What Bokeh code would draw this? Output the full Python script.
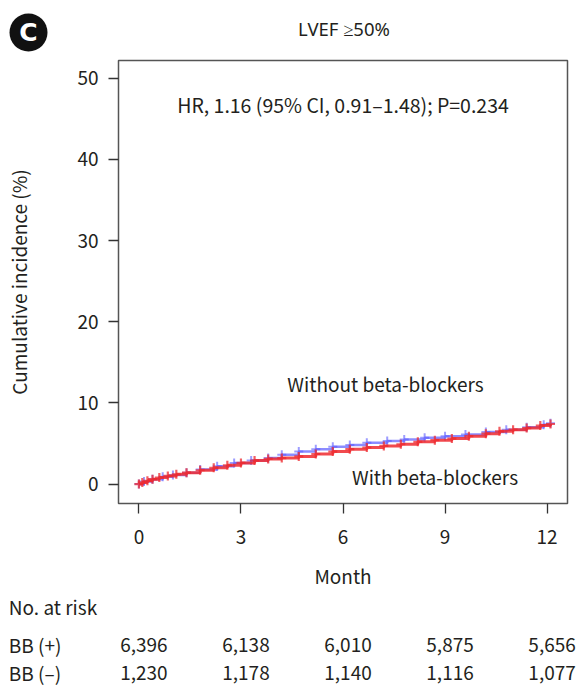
import math
from bokeh.plotting import figure
from bokeh.models import Range1d
from bokeh.layouts import column
from bokeh.embed import file_html
from bokeh.resources import INLINE
from bokeh.core.properties import value

# ---- data ----
months_bb = [0, 0.1, 0.25, 0.4, 0.6, 0.85, 1.1, 1.4, 1.8, 2.2, 2.6, 3.0, 3.4, 3.8,
             4.2, 4.7, 5.2, 5.7, 6.2, 6.7, 7.2, 7.7, 8.2, 8.7, 9.2, 9.7, 10.2,
             10.6, 11.0, 11.4, 11.8, 12.1]
inc_bb = [0.0, 0.2, 0.4, 0.6, 0.8, 1.0, 1.2, 1.4, 1.7, 2.0, 2.3, 2.6, 2.9, 3.1,
          3.2, 3.4, 3.7, 4.0, 4.3, 4.5, 4.7, 4.9, 5.2, 5.4, 5.6, 5.9, 6.2,
          6.5, 6.7, 6.9, 7.2, 7.4]

months_nobb = [0, 0.15, 0.4, 0.7, 1.0, 1.4, 1.8, 2.3, 2.8, 3.3, 3.8, 4.2, 4.7,
               5.2, 5.7, 6.2, 6.7, 7.3, 7.8, 8.4, 9.0, 9.6, 10.2, 10.8, 11.4,
               11.9, 12.1]
inc_nobb = [0.0, 0.3, 0.6, 0.9, 1.1, 1.4, 1.8, 2.2, 2.6, 2.9, 3.2, 3.6, 4.0,
            4.3, 4.6, 4.8, 5.1, 5.3, 5.5, 5.7, 5.9, 6.1, 6.4, 6.7, 7.0,
            7.3, 7.5]

risk_months = [0, 3, 6, 9, 12]
risk_bb_pos = ["6,396", "6,138", "6,010", "5,875", "5,656"]
risk_bb_neg = ["1,230", "1,178", "1,140", "1,116", "1,077"]
risk_rows = ["BB (+)", "BB (–)"]

x_ticks = [0, 3, 6, 9, 12]
y_ticks = [0, 10, 20, 30, 40, 50]

panel_letter = "C"
title_text = "LVEF ≥50%"
hr_text = "HR, 1.16 (95% CI, 0.91–1.48); P=0.234"
label_without = "Without beta-blockers"
label_with = "With beta-blockers"
risk_title = "No. at risk"

FONT = "Noto Sans CJK KR"
TXT = "#231f20"
FS = "19px"
RED = "#ee2a2f"
BLUE = "#5b5bff"

W = 579
HEAD_H = 58
TABLE_H = 96

# ---- main frame geometry (page pixels) ----
X0, X1 = -0.6, 12.6
Y0, Y1 = -2.4, 52.2
FL, FT, FW, FH = 118, 60, 449, 443
PXM = FW / (X1 - X0)


def dx(px):
    return X0 + (px - FL) / PXM


def dy(py):
    return Y1 - (py - FT) / FH * (Y1 - Y0)


def blank_fig(w, h, xr, yr):
    fig = figure(width=w, height=h, x_range=xr, y_range=yr, min_border=0,
                 x_axis_location=None, y_axis_location=None, frame_align=False,
                 output_backend="svg", toolbar_location=None, tools="")
    fig.grid.visible = False
    fig.outline_line_color = None
    fig.background_fill_color = "white"
    fig.border_fill_color = "white"
    return fig


# ---- header: panel letter + title ----
head = blank_fig(W, HEAD_H, Range1d(0, W), Range1d(HEAD_H, 0))
head.scatter([28], [32], marker="circle", size=38, fill_color="#111111", line_color=None)
head.text([28], [31.5], text=[panel_letter], text_align="center", text_baseline="middle",
          text_font=value("DejaVu Sans"), text_font_style="bold", text_font_size="25px",
          text_color="white")
head.text([343.5], [28], text=[title_text], text_align="center", text_baseline="middle",
          text_font=value("Noto Sans"), text_font_size="18.5px", text_color=TXT)

# ---- main plot ----
MAIN_H = 590 - HEAD_H
p = figure(frame_width=FW, frame_height=FH,
           min_border_left=FL, min_border_right=W - FL - FW,
           min_border_top=FT - HEAD_H, min_border_bottom=MAIN_H - (FT - HEAD_H) - FH,
           x_range=Range1d(X0, X1), y_range=Range1d(Y0, Y1), frame_align=False,
           output_backend="svg", toolbar_location=None, tools="")

p.grid.visible = False
p.outline_line_color = "#555555"
p.outline_line_width = 1.5
p.background_fill_color = "white"
p.border_fill_color = "white"

for ax, ticks in ((p.xaxis, x_ticks), (p.yaxis, y_ticks)):
    ax.ticker = ticks
    ax.axis_line_color = None
    ax.major_tick_in = 0
    ax.major_tick_out = 10
    ax.minor_tick_line_color = None
    ax.major_tick_line_color = "#333333"
    ax.major_tick_line_width = 1.3
    ax.major_label_text_font = FONT
    ax.major_label_text_font_size = FS
    ax.major_label_text_color = TXT
    ax.axis_label_text_font = FONT
    ax.axis_label_text_font_size = FS
    ax.axis_label_text_font_style = "normal"
    ax.axis_label_text_color = TXT

p.xaxis.major_label_standoff = 16
p.yaxis.major_label_standoff = 10
p.xaxis.axis_label = "Month"
p.xaxis.axis_label_standoff = 15
p.yaxis.axis_label = "Cumulative incidence (%)"
p.yaxis.axis_label_standoff = 42

# curves
p.step(months_nobb, inc_nobb, mode="after", line_color=BLUE, line_width=2.5, line_alpha=0.7)
p.scatter(months_nobb, inc_nobb, marker="cross", size=9, line_width=2,
          line_color=BLUE, line_alpha=0.6)
p.step(months_bb, inc_bb, mode="after", line_color=RED, line_width=3, line_alpha=0.85)
p.scatter(months_bb, inc_bb, marker="cross", size=9, line_width=2.2,
          line_color=RED, line_alpha=0.75)

p.text([dx(342.5)], [dy(103.7)], text=[hr_text], text_align="center", text_baseline="middle",
       text_font=value(FONT), text_font_size="19.5px", text_color=TXT)
p.text([dx(385), dx(434.5)], [dy(383), dy(476.3)], text=[label_without, label_with],
       text_align="center", text_baseline="middle",
       text_font=value(FONT), text_font_size=FS, text_color=TXT)

# ---- number-at-risk table (same month scale as the plot) ----
TOP = 590
t = blank_fig(W, TABLE_H, Range1d(X0 - FL / PXM, X1 + (W - FL - FW) / PXM),
              Range1d(TOP + TABLE_H, TOP))
left_x = X0 - FL / PXM + 8.3 / PXM
t.text([left_x], [604.7], text=[risk_title], text_align="left", text_baseline="middle",
       text_font=value(FONT), text_font_size=FS, text_color=TXT)
row_y = [643, 671]
t.text([left_x, left_x], row_y, text=risk_rows, text_align="left", text_baseline="middle",
       text_font=value(FONT), text_font_size=FS, text_color=TXT)
for ry, vals in zip(row_y, [risk_bb_pos, risk_bb_neg]):
    t.text(risk_months, [ry] * len(risk_months), text=vals, x_offset=5,
           text_align="center", text_baseline="middle",
           text_font=value(FONT), text_font_size=FS, text_color=TXT)

layout = column(head, p, t, spacing=0)
open("out.html", "w").write(file_html(layout, INLINE))
